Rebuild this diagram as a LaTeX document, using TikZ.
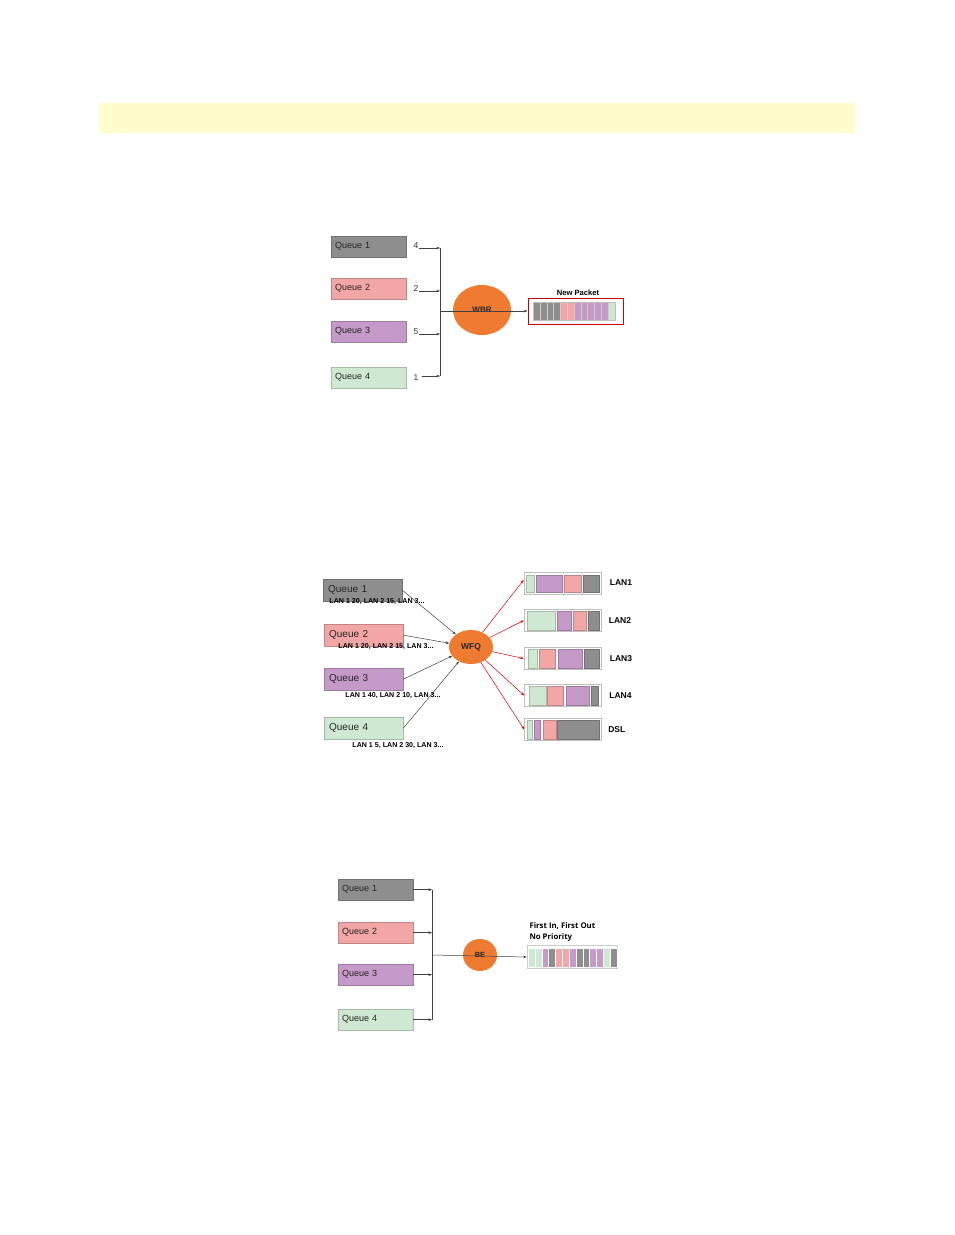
\documentclass[tikz,border=0pt]{standalone}
\usepackage{fontspec}
\setmainfont{Liberation Sans}
\newfontfamily\fifofont{Open Sans}
\usetikzlibrary{arrows.meta,shapes.geometric}

\definecolor{qgray}{HTML}{8E8E8E}
\definecolor{qpink}{HTML}{F2A6A6}
\definecolor{qpurple}{HTML}{C69AC8}
\definecolor{qgreen}{HTML}{CFE8D2}
\definecolor{schedorange}{HTML}{EE7B30}
\definecolor{bannerfill}{HTML}{FFFDCC}

\tikzset{
  queue/.style={draw=#1!80!black, fill=#1, line width=0.3pt, anchor=north west,
    inner xsep=4pt, inner ysep=0pt, align=left, text=black!85,
    font=\fontsize{9}{10}\selectfont, text width=67pt, minimum height=21pt},
  bigqueue/.style={queue=#1, inner xsep=5pt, text width=69pt, minimum height=22pt,
    font=\fontsize{10}{11}\selectfont},
  sched/.style={ellipse, fill=schedorange, inner sep=0pt, text=black!85,
    font=\bfseries\fontsize{8}{9}\selectfont},
  arr/.style={-{Stealth[length=3.5pt,width=2.6pt]}, black!75, line width=0.5pt},
  redarr/.style={-{Stealth[length=3.5pt,width=2.6pt]}, red!85!black, line width=0.5pt},
  lanbox/.style={draw=black!25, fill=white, line width=0.6pt, minimum width=77pt,
    minimum height=22pt, inner sep=0pt},
  lanlabel/.style={anchor=west, font=\bfseries\fontsize{8.5}{9}\selectfont},
  sublabel/.style={font=\bfseries\fontsize{7.1}{8}\selectfont},
  weight/.style={text=black!80, font=\fontsize{8.5}{9}\selectfont, inner sep=0pt}
}

\begin{document}
\begin{tikzpicture}[x=1pt,y=-1pt]
\useasboundingbox (0,0) rectangle (954,1235);
\fill[bannerfill] (99,103) rectangle (855,133);

% WBR
\node[queue=qgray] (tq1) at (331,236) {Queue 1};
\node[queue=qpink] (tq2) at (331,278) {Queue 2};
\node[queue=qpurple] (tq3) at (331,321) {Queue 3};
\node[queue=qgreen] (tq4) at (331,367) {Queue 4};
\node[weight] (tw1) at (416,246) {4};
\node[weight] (tw2) at (416,289) {2};
\node[weight] (tw3) at (416,332) {5};
\node[weight] (tw4) at (416,378) {1};
\coordinate (tbus) at (440,311);
\node[sched, minimum width=58pt, minimum height=50pt] (wbr) at (482,310) {WBR};
\node[draw=red!80!black, line width=1pt, minimum width=95pt, minimum height=26pt, inner sep=0pt] (pkt) at (575.5,311) {};
\node[font=\bfseries\fontsize{7.6}{8}\selectfont] (pktlabel) at (578,293) {New Packet};
\foreach \c [count=\i from 0] in {qgray,qgray,qgray,qgray,qpink,qpink,qpurple,qpurple,qpurple,qpurple,qpurple,qgreen}
  \filldraw[fill=\c, draw=white!80!black, line width=0.3pt] (533+\i*6.83,302) rectangle ++(6.83,18);
\draw[white!75!black, line width=0.4pt] (533,302) rectangle (615,320);

\draw[arr] (tw1.east |- 0,248) -- (tbus |- 0,248);
\draw[arr] (tw2.east |- 0,291) -- (tbus |- 0,291);
\draw[arr] (tw3.east |- 0,334) -- (tbus |- 0,334);
\draw[arr] ([xshift=3pt]tw4.east |- 0,376) -- (tbus |- 0,376);
\draw[black!75, line width=0.5pt] (tbus |- 0,248) -- (tbus |- 0,376);
\draw[arr] (tbus) -- (pkt.west);

% WFQ
\node[bigqueue=qgray] (mq1) at (323,579) {Queue 1};
\node[bigqueue=qpink] (mq2) at (324,624) {Queue 2};
\node[bigqueue=qpurple] (mq3) at (324,668) {Queue 3};
\node[bigqueue=qgreen] (mq4) at (324,717) {Queue 4};
\node[sublabel] (ms1) at (377,602) {LAN 1 20, LAN 2 15, LAN 3...};
\node[sublabel] (ms2) at (386,647) {LAN 1 20, LAN 2 15, LAN 3...};
\node[sublabel] (ms3) at (393,696) {LAN 1 40, LAN 2 10, LAN 3...};
\node[sublabel] (ms4) at (398,746) {LAN 1 5, LAN 2 30, LAN 3...};
\node[sched, minimum width=44pt, minimum height=34pt, font=\bfseries\fontsize{8.5}{9}\selectfont] (wfq) at (471,647) {WFQ};

\node[lanbox] (lan1) at (562.5,583) {};
\node[lanbox] (lan2) at (562.5,620.5) {};
\node[lanbox] (lan3) at (562.5,658.5) {};
\node[lanbox] (lan4) at (563,695.5) {};
\node[lanbox] (dsl) at (563,729.5) {};
\foreach \a/\b/\c in {526/534/qgreen,536/562/qpurple,564/581/qpink,583/599/qgray}
  \filldraw[fill=\c, draw=\c!80!black, line width=0.3pt] (\a,575) rectangle (\b,592);
\foreach \a/\b/\c in {527/555/qgreen,557/571/qpurple,573/586/qpink,588/599/qgray}
  \filldraw[fill=\c, draw=\c!80!black, line width=0.3pt] (\a,611) rectangle (\b,630);
\foreach \a/\b/\c in {528/537/qgreen,539/555/qpink,558/582/qpurple,584/599/qgray}
  \filldraw[fill=\c, draw=\c!80!black, line width=0.3pt] (\a,649) rectangle (\b,668);
\foreach \a/\b/\c in {529/546/qgreen,547/563/qpink,566/589/qpurple,591/598/qgray}
  \filldraw[fill=\c, draw=\c!80!black, line width=0.3pt] (\a,686) rectangle (\b,705);
\foreach \a/\b/\c in {527/532/qgreen,534/540/qpurple,543/556/qpink,557/599/qgray}
  \filldraw[fill=\c, draw=\c!80!black, line width=0.3pt] (\a,720) rectangle (\b,739);
\node[lanlabel] (lab1) at ([xshift=5pt]lan1.east) {LAN1};
\node[lanlabel] (lab2) at ([xshift=4pt]lan2.east) {LAN2};
\node[lanlabel] (lab3) at ([xshift=5pt]lan3.east) {LAN3};
\node[lanlabel] (lab4) at ([xshift=4pt]lan4.east) {LAN4};
\node[lanlabel] (lab5) at ([xshift=3pt]dsl.east) {DSL};

\draw[arr] (mq1.east) -- (wfq);
\draw[arr] (mq2.east) -- (wfq);
\draw[arr] (mq3.east) -- (wfq);
\draw[arr] (mq4.east) -- (wfq);
\draw[redarr] (wfq) -- ([yshift=3pt]lan1.west);
\draw[redarr] (wfq) -- (lan2.west);
\draw[redarr] (wfq) -- (lan3.west);
\draw[redarr] (wfq) -- (lan4.west);
\draw[redarr] (wfq) -- (dsl.west);

% BE
\node[queue=qgray] (bq1) at (338,879) {Queue 1};
\node[queue=qpink] (bq2) at (338,922) {Queue 2};
\node[queue=qpurple] (bq3) at (338,964) {Queue 3};
\node[queue=qgreen] (bq4) at (338,1009) {Queue 4};
\coordinate (bbus) at (432,955);
\node[sched, minimum width=34pt, minimum height=32pt, font=\bfseries\fontsize{7.5}{8}\selectfont] (be) at (480,955) {BE};
\node[draw=black!20, line width=0.6pt, minimum width=90pt, minimum height=23pt, inner sep=0pt] (fifo) at (572,957) {};
\foreach \c [count=\i from 0] in {qgreen,qgreen,qpurple,qgray,qpink,qpink,qpurple,qgray,qgray,qpurple,qpurple,qgreen,qgray}
  \filldraw[fill=\c, draw=white, line width=0.4pt] (528+\i*6.85,948) rectangle ++(6.85,19);
\node[anchor=west, align=left, font=\fifofont\bfseries\fontsize{7.8}{11}\selectfont] (fifolabel) at (526,932) {First In, First Out\\No Priority};

\draw[arr] (bq1.east) -- (bq1.east -| bbus);
\draw[arr] (bq2.east) -- (bq2.east -| bbus);
\draw[arr] (bq3.east) -- (bq3.east -| bbus);
\draw[arr] (bq4.east) -- (bq4.east -| bbus);
\draw[black!75, line width=0.5pt] (bq1.east -| bbus) -- (bq4.east -| bbus);
\draw[arr] (bbus) -- (fifo.west);
\end{tikzpicture}
\end{document}
